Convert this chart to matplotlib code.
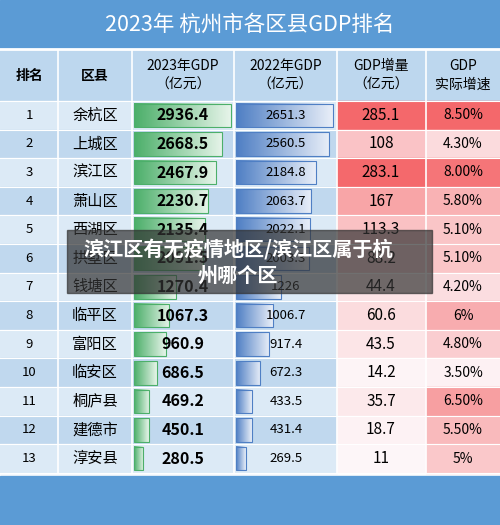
import matplotlib
matplotlib.use("Agg")
import matplotlib.pyplot as plt
import numpy as np
from matplotlib.patches import Rectangle
from matplotlib.colors import LinearSegmentedColormap

plt.rcParams['font.family'] = ['Noto Sans CJK SC', 'DejaVu Sans']

ranks = list(range(1, 14))
districts = ["余杭区","上城区","滨江区","萧山区","西湖区","拱墅区","钱塘区","临平区","富阳区","临安区","桐庐县","建德市","淳安县"]
gdp2023 = [2936.4,2668.5,2467.9,2230.7,2135.4,2091.5,1270.4,1067.3,960.9,686.5,469.2,450.1,280.5]
gdp2022 = [2651.3,2560.5,2184.8,2063.7,2022.1,2003.3,1226,1006.7,917.4,672.3,433.5,431.4,269.5]
increase = [285.1,108,283.1,167,113.3,88.2,44.4,60.6,43.5,14.2,35.7,18.7,11]
growth = [8.50,4.30,8.00,5.80,5.10,5.10,4.20,6.00,4.80,3.50,6.50,5.50,5.00]
growth_lbl = ["8.50%","4.30%","8.00%","5.80%","5.10%","5.10%","4.20%","6%","4.80%","3.50%","6.50%","5.50%","5%"]
headers = ["排名","区县","2023年GDP\n（亿元）","2022年GDP\n（亿元）","GDP增量\n（亿元）","GDP\n实际增速"]

W, H = 500, 525
fig = plt.figure(figsize=(W/100, H/100), dpi=100)
ax = fig.add_axes([0, 0, 1, 1])
ax.set_xlim(0, W); ax.set_ylim(H, 0); ax.axis('off')

edges = [0, 58, 132, 234, 337, 426, 500]
ax.add_patch(Rectangle((0, 0), W, H, color='white'))
ax.add_patch(Rectangle((0, 0), W, 48, color='#5b9bd5'))
ax.add_patch(Rectangle((0, 476), W, 49, color='#5b9bd5'))
ax.text(W/2, 25, "2023年 杭州市各区县GDP排名", color='white', fontsize=15.5, ha='center', va='center')
hy0, hy1 = 50, 101
ax.add_patch(Rectangle((0, hy0), W, hy1-hy0, color='#bdd7ee'))
for i, h in enumerate(headers):
    ax.text((edges[i]+edges[i+1])/2, (hy0+hy1)/2, h, ha='center', va='center',
            fontsize=10, fontweight='bold' if i < 2 else 'normal', linespacing=1.4)

rh = 28.6
y0 = 101
pink = LinearSegmentedColormap.from_list('p', ['#fdf6f8', '#f4686b'])
gcm = LinearSegmentedColormap.from_list('g', ['#4caf6a', '#e6f4e9'])
bcm = LinearSegmentedColormap.from_list('b', ['#4f7fc4', '#e8eef8'])
grad = np.linspace(0, 1, 64).reshape(1, -1)
for r in range(13):
    top = y0 + r*rh
    cy = top + rh/2
    ax.add_patch(Rectangle((0, top), 337, rh, color='#dceaf6' if r % 2 == 0 else '#c0d8ee'))
    ax.add_patch(Rectangle((337, top), 89, rh, color=pink((increase[r]-10)/(285-10))))
    ax.add_patch(Rectangle((426, top), 74, rh, color=pink((growth[r]-3.3)/(8.5-3.3))))
    w1 = gdp2023[r]/2936.4*97
    ax.imshow(gcm(grad), extent=(134, 134+w1, top+rh-2.5, top+2.5), aspect='auto', zorder=2)
    ax.add_patch(Rectangle((134, top+2.5), w1, rh-5, fill=False, ec='#4caf6a', lw=0.8, zorder=3))
    w2 = gdp2022[r]/2936.4*107
    ax.imshow(bcm(grad), extent=(236, 236+w2, top+rh-2.5, top+2.5), aspect='auto', zorder=2)
    ax.add_patch(Rectangle((236, top+2.5), w2, rh-5, fill=False, ec='#4f7fc4', lw=0.8, zorder=3))
    ax.text(29, cy, str(ranks[r]), ha='center', va='center', fontsize=9.5)
    ax.text(95, cy, districts[r], ha='center', va='center', fontsize=11)
    ax.text(183, cy, f"{gdp2023[r]:g}", ha='center', va='center', fontsize=11.5, fontweight='bold', zorder=4)
    ax.text(286, cy, f"{gdp2022[r]:g}", ha='center', va='center', fontsize=9.5, zorder=4)
    ax.text(381, cy, f"{increase[r]:g}", ha='center', va='center', fontsize=11)
    ax.text(463, cy, growth_lbl[r], ha='center', va='center', fontsize=10)

tb = y0 + 13*rh
for e in edges[1:-1]:
    ax.plot([e, e], [hy0, tb], color='white', lw=1.2, zorder=5)
ax.plot([0, W], [hy0-1, hy0-1], color='white', lw=2, zorder=5)
for r in range(14):
    yy = y0 + r*rh
    ax.plot([0, W], [yy, yy], color='white', lw=0.8, zorder=5)

ax.add_patch(Rectangle((67, 230), 365, 63, color='#333333', alpha=0.7, zorder=6))
ax.text(238, 262, "滨江区有无疫情地区/滨江区属于杭\n州哪个区", color='white', fontsize=14.5, fontweight='bold',
        ha='center', va='center', linespacing=1.3, zorder=7)

fig.savefig("out.png", dpi=100)
